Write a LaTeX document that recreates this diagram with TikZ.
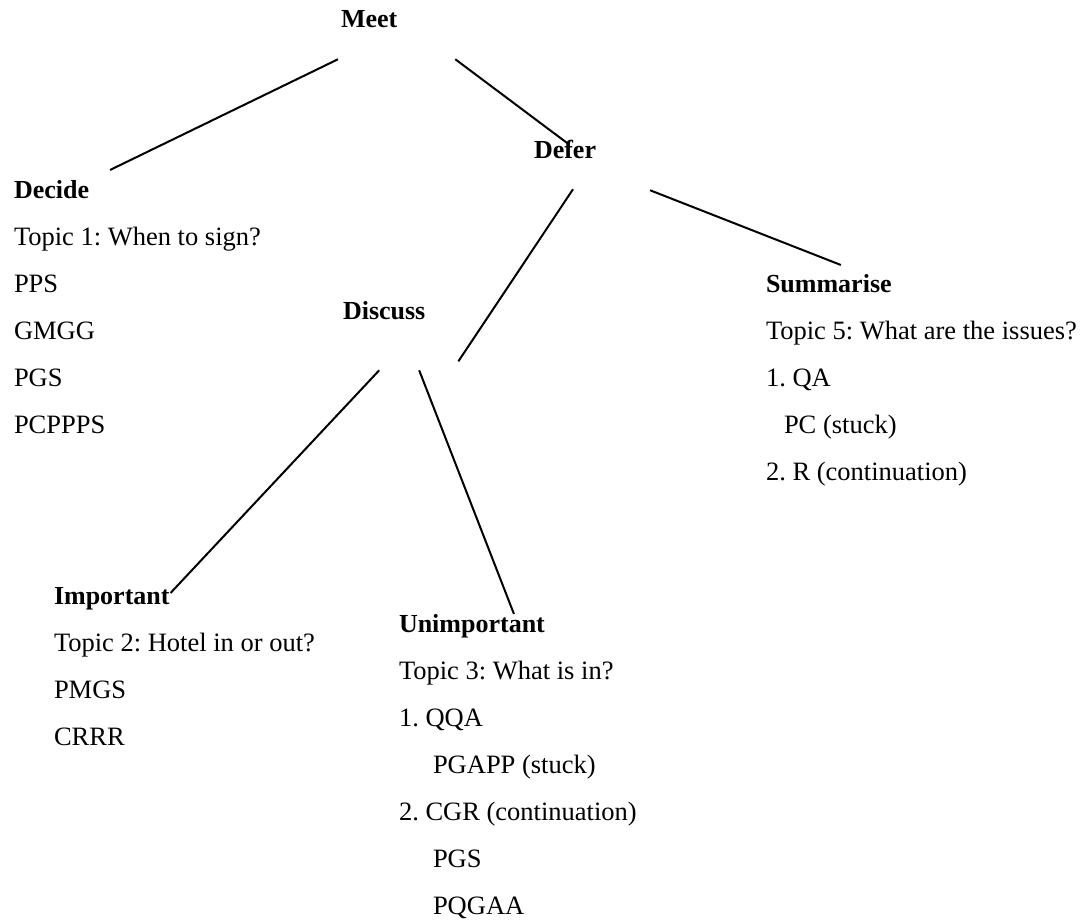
\documentclass[tikz,border=0pt]{standalone}
\usepackage{fontspec}
\setmainfont{Liberation Serif}

\newcommand\treefont{\fontsize{26.5}{31}\selectfont\frenchspacing}

\tikzset{
  head/.style = {font=\fontsize{26}{31}\selectfont\bfseries, anchor=base west, inner sep=0pt},
  item/.style = {font=\treefont, anchor=base west, inner sep=0pt}
}

\begin{document}
\begin{tikzpicture}[x=1pt, y=1pt, line width=2pt]
   \useasboundingbox (0,0) rectangle (1082,-919);

   \node[head] (meet)        at (340,-27)  {Meet};
   \node[head] (defer)       at (533,-158) {Defer};
   \node[head] (decide)      at (13,-198)  {Decide};
   \node[head] (discuss)     at (342,-319) {Discuss};
   \node[head] (summarise)   at (765,-292) {Summarise};
   \node[head] (important)   at (53,-604)  {Important};
   \node[head] (unimportant) at (398,-632) {Unimportant};

   % lines under each heading
   \foreach \t [count=\i] in {Topic 1: When to sign?, PPS, GMGG, PGS, PCPPPS}
      \node[item] (decide-\i) at ([yshift=-47*\i]decide.base west) {\t};
   \foreach \t [count=\i] in {Topic 5: What are the issues?, 1. QA,
         {\hspace*{18pt}PC (stuck)}, 2. R (continuation)}
      \node[item] (summarise-\i) at ([yshift=-47*\i]summarise.base west) {\t};
   \foreach \t [count=\i] in {Topic 2: Hotel in or out?, PMGS, CRRR}
      \node[item] (important-\i) at ([yshift=-47*\i]important.base west) {\t};
   \foreach \t [count=\i] in {Topic 3: What is in?, 1. QQA,
         {\hspace*{34pt}PGAPP (stuck)}, 2. CGR (continuation),
         {\hspace*{34pt}PGS}, {\hspace*{34pt}PQGAA}}
      \node[item] (unimportant-\i) at ([yshift=-47*\i]unimportant.base west) {\t};

   \draw ([shift={(-2,-31)}]meet.south west) -- ([shift={(20,9)}]decide.north east);
   \draw ([shift={(57,-31)}]meet.south east) -- ([shift={(3,-5)}]defer.north);
   \draw ([shift={(8,-30)}]defer.south) -- ([shift={(32,-41)}]discuss.south east);
   \draw ([shift={(53,-31)}]defer.south east) -- ([shift={(12,8)}]summarise.north);
   \draw ([shift={(-5,-50)}]discuss.south) -- ([shift={(0,-7)}]important.north east);
   \draw ([shift={(35,-50)}]discuss.south) -- ([shift={(42,-1)}]unimportant.north);
\end{tikzpicture}
\end{document}
